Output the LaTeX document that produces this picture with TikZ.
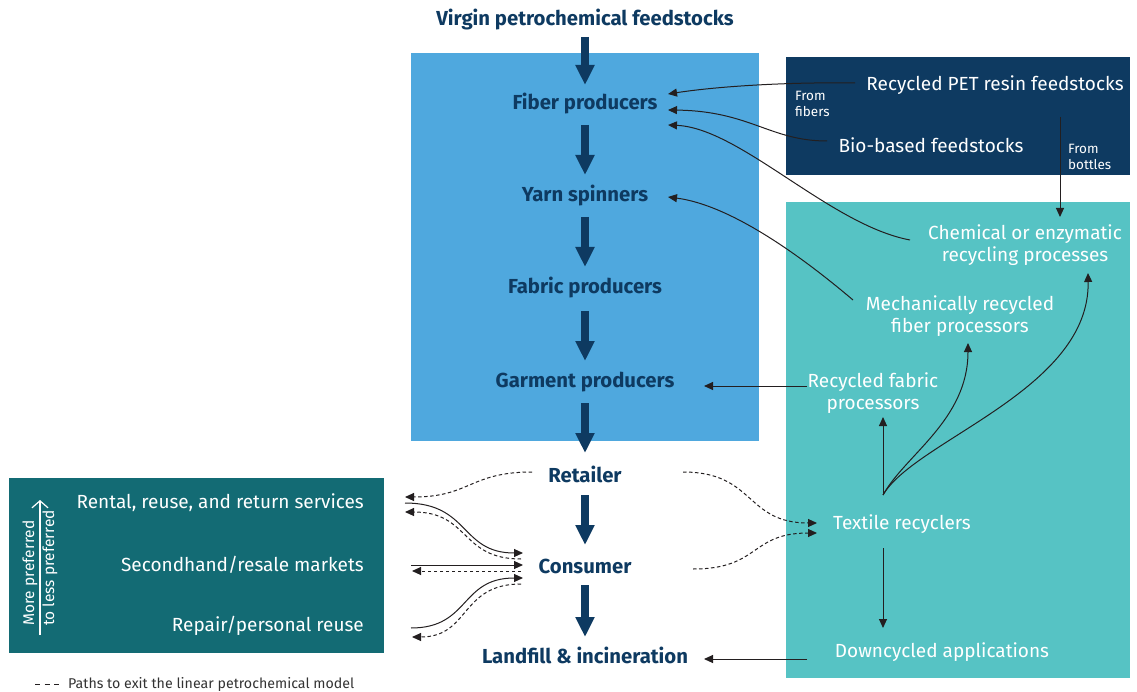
\documentclass[tikz,border=0pt]{standalone}
\usepackage{fontspec}
\setmainfont{Fira Sans}
\usetikzlibrary{arrows.meta}
\definecolor{lblue}{HTML}{4FA8DE}
\definecolor{navy}{HTML}{0E3A61}
\definecolor{aqua}{HTML}{56C3C4}
\definecolor{dteal}{HTML}{136B74}
\definecolor{ink}{HTML}{231F20}
\definecolor{legendgray}{HTML}{333333}
\begin{document}
\begin{tikzpicture}[x=1pt,y=-1pt,
  stage/.style={font=\bfseries\fontsize{20.3}{23}\selectfont, text=navy, inner sep=0pt},
  wlabel/.style={font=\fontsize{19}{21.5}\selectfont, text=white, inner sep=0pt, align=center},
  small/.style={font=\fontsize{13.5}{16}\selectfont, text=white, inner sep=0pt, align=left},
  flow/.style={navy, line width=8pt, -{Triangle[length=20pt,width=18pt]}},
  conn/.style={ink, line width=1pt, -{Triangle[length=9pt,width=8pt]}},
  exitpath/.style={ink, line width=1pt, dash pattern=on 3.5pt off 2.5pt, -{Triangle[length=9pt,width=8pt]}}
]
\useasboundingbox (0,0) rectangle (1137,692);

% background panels
\fill[lblue] (411,53) rectangle (759,441);
\fill[navy] (786,57) rectangle (1130,175);
\fill[aqua] (786,202) rectangle (1130,678);
\fill[dteal] (9,478) rectangle (384,653);

% linear chain
\node[stage] (virgin) at (585,20) {Virgin petrochemical feedstocks};
\node[stage] (fib) at (585,104) {Fiber producers};
\node[stage] (yarn) at (585,196) {Yarn spinners};
\node[stage] (fab) at (585,288) {Fabric producers};
\node[stage] (gar) at (585,382) {Garment producers};
\node[stage] (ret) at (585,474) {Retailer};
\node[stage] (con) at (585,566) {Consumer};
\node[stage] (land) at (585,655) {Landfill \& incineration};

\draw[flow] ([shift={(0,17)}]virgin.center) -- ([shift={(0,-19)}]fib.center);
\draw[flow] ([shift={(0,21)}]fib.center) -- ([shift={(0,-21)}]yarn.center);
\draw[flow] ([shift={(0,21)}]yarn.center) -- ([shift={(0,-21)}]fab.center);
\draw[flow] ([shift={(0,23)}]fab.center) -- ([shift={(0,-21)}]gar.center);
\draw[flow] ([shift={(0,21)}]gar.center) -- ([shift={(0,-21)}]ret.center);
\draw[flow] ([shift={(0,21)}]ret.center) -- ([shift={(0,-21)}]con.center);
\draw[flow] ([shift={(0,19)}]con.center) -- ([shift={(0,-18)}]land.center);

% feedstock panel
\node[wlabel] (pet) at (995,85) {Recycled PET resin feedstocks};
\node[wlabel] (bio) at (931,145) {Bio-based feedstocks};
\node[small, anchor=north west] (fromfib) at (795,91) {From\\fibers};
\node[small, anchor=north west] (frombot) at (1068,144) {From\\bottles};

% recycling panel
\node[wlabel] (chem) at (1025,245) {Chemical or enzymatic\\recycling processes};
\node[wlabel] (mech) at (960,316) {Mechanically recycled\\fiber processors};
\node[wlabel] (rfab) at (873,393) {Recycled fabric\\processors};
\node[wlabel] (tex) at (902,524) {Textile recyclers};
\node[wlabel] (down) at (942,652) {Downcycled applications};

% reuse loops panel
\node[wlabel, anchor=east] (rent) at (364,503) {Rental, reuse, and return services};
\node[wlabel, anchor=east] (resale) at (364,565) {Secondhand/resale markets};
\node[wlabel, anchor=east] (repair) at (364,626) {Repair/personal reuse};
\draw[white, line width=1.2pt, -{Straight Barb[length=7pt,width=16pt]}] ([shift={(-324,132)}]rent.east) -- ([shift={(-324,-3)}]rent.east);
\node[font=\fontsize{15.5}{20}\selectfont, text=white, rotate=90, anchor=west, align=left, inner sep=0pt] (pref) at (40,626) {More preferred\\to less preferred};

% feedstocks into fiber producers
\draw[conn] ([shift={(-140,-2)}]pet.center) .. controls (790,82) and (720,86) .. ([shift={(83,-10)}]fib.center);
\draw[conn] ([shift={(-104,-4)}]bio.center) .. controls (770,141) and (750,111) .. ([shift={(83,6)}]fib.center);
\draw[conn] ([shift={(-115,-5)}]chem.center) .. controls (830,225) and (740,128) .. ([shift={(83,21)}]fib.center);
\draw[conn] ([shift={(-107,-16)}]mech.center) .. controls (800,255) and (730,205) .. ([shift={(83,1)}]yarn.center);
\draw[conn] ([shift={(65,32)}]pet.center) -- ([shift={(35,-28)}]chem.center);

% recycling outputs
\draw[conn] ([shift={(-66,-7)}]rfab.center) -- ([shift={(119,4)}]gar.center);
\draw[conn] ([shift={(-19,-29)}]tex.center) -- ([shift={(10,24)}]rfab.center);
\draw[conn] ([shift={(-19,-29)}]tex.center) .. controls (905,455) and (968,420) .. ([shift={(8,27)}]mech.center);
\draw[conn] ([shift={(-19,-29)}]tex.center) .. controls (915,440) and (1090,390) .. ([shift={(63,28)}]chem.center);
\draw[conn] ([shift={(-19,24)}]tex.center) -- ([shift={(-59,-24)}]down.center);
\draw[conn] ([shift={(-135,7)}]down.center) -- ([shift={(119,4)}]land.center);

% exit paths toward recyclers
\draw[exitpath] ([shift={(98,-2)}]ret.center) .. controls (755,472) and (745,523) .. ([shift={(-85,-1)}]tex.center);
\draw[exitpath] ([shift={(108,3)}]con.center) .. controls (760,569) and (750,533) .. ([shift={(-85,9)}]tex.center);

% exit paths toward reuse loops
\draw[exitpath] ([shift={(-53,-2)}]ret.center) .. controls (470,472) and (470,497) .. ([shift={(41,-6)}]rent.east);
\draw[conn] ([shift={(41,0)}]rent.east) .. controls (470,503) and (460,553) .. ([shift={(-62,-13)}]con.center);
\draw[exitpath] ([shift={(-64,-7)}]con.center) .. controls (460,559) and (470,512) .. ([shift={(41,9)}]rent.east);
\draw[conn] ([shift={(47,0)}]resale.east) -- ([shift={(-62,-1)}]con.center);
\draw[exitpath] ([shift={(-64,5)}]con.center) -- ([shift={(48,6)}]resale.east);
\draw[conn] ([shift={(47,2)}]repair.east) .. controls (470,628) and (460,578) .. ([shift={(-62,12)}]con.center);
\draw[exitpath] ([shift={(-64,18)}]con.center) .. controls (460,584) and (470,637) .. ([shift={(48,11)}]repair.east);

% legend
\coordinate (lgA) at (35,684);
\coordinate (lgB) at (59,684);
\draw[ink, line width=1pt, dash pattern=on 5pt off 4.5pt] (lgA) -- (lgB);
\node[anchor=west, font=\fontsize{14.2}{16}\selectfont, text=legendgray, inner sep=0pt] (legend) at (68,684) {Paths to exit the linear petrochemical model};
\end{tikzpicture}
\end{document}
